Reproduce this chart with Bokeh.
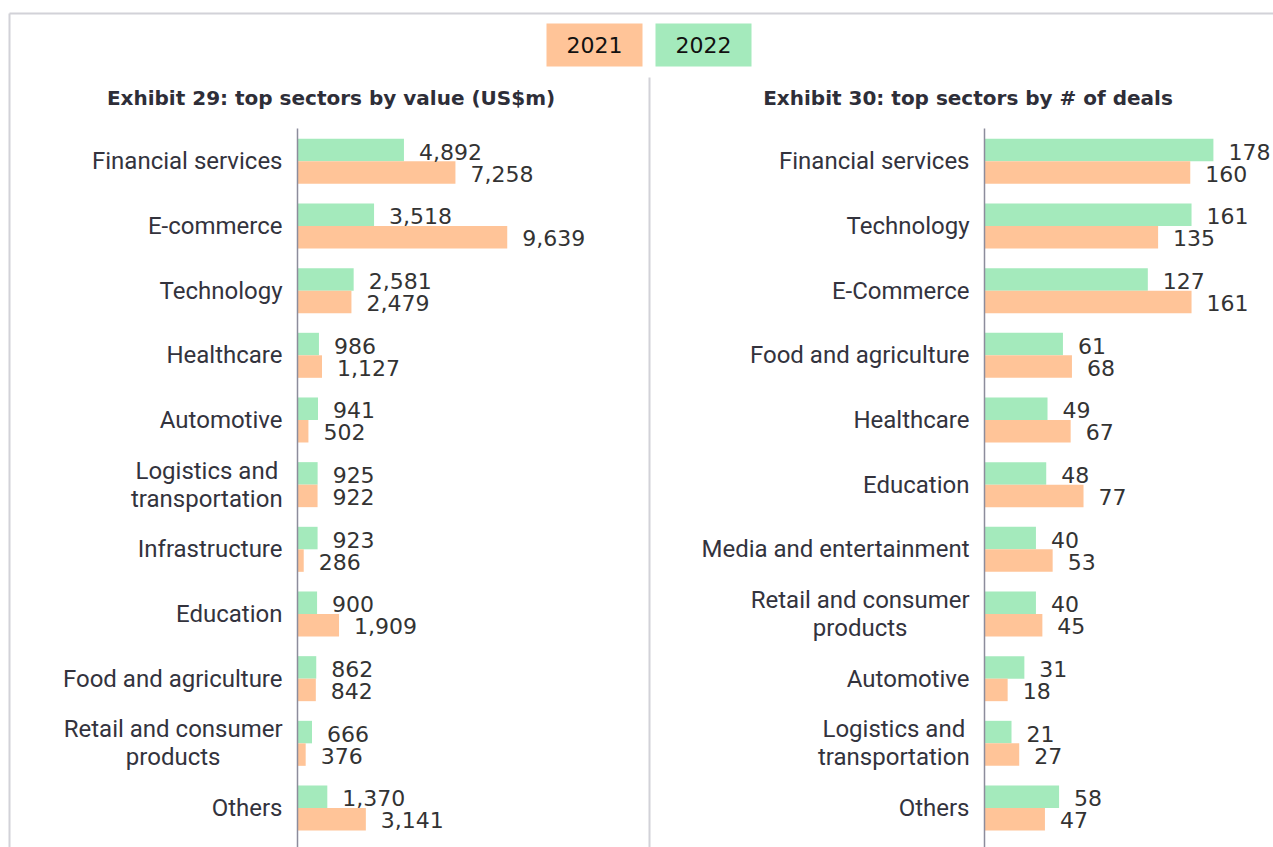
from bokeh.plotting import figure
from bokeh.models import Range1d, ColumnDataSource
from bokeh.embed import file_html
from bokeh.resources import INLINE
from bokeh.core.properties import value

# ---------------- data ----------------
series = ["2021", "2022"]

value_title = "Exhibit 29: top sectors by value (US$m)"
value_cats = ["Financial services", "E-commerce", "Technology", "Healthcare", "Automotive",
              "Logistics and transportation", "Infrastructure", "Education",
              "Food and agriculture", "Retail and consumer products", "Others"]
value_2022 = [4892, 3518, 2581, 986, 941, 925, 923, 900, 862, 666, 1370]
value_2021 = [7258, 9639, 2479, 1127, 502, 922, 286, 1909, 842, 376, 3141]

deals_title = "Exhibit 30: top sectors by # of deals"
deals_cats = ["Financial services", "Technology", "E-Commerce", "Food and agriculture",
              "Healthcare", "Education", "Media and entertainment",
              "Retail and consumer products", "Automotive",
              "Logistics and transportation", "Others"]
deals_2022 = [178, 161, 127, 61, 49, 48, 40, 40, 31, 21, 58]
deals_2021 = [160, 135, 161, 68, 67, 77, 53, 45, 18, 27, 47]

wrapped = {"Logistics and transportation": "Logistics and\ntransportation",
           "Retail and consumer products": "Retail and consumer\nproducts"}

# ---------------- style / layout ----------------
C2021 = "#FFC498"
C2022 = "#A4EABC"
TXT = "#33333d"
W, H = 1273, 847
AX1, K1 = 297, 0.02176      # left panel axis (px) and px per US$m
AX2, K2 = 984, 1.286        # right panel axis (px) and px per deal
TOP_C, PITCH = 160.8, 64.67  # first category centre (px) and spacing
BAR_H = 0.348
LABEL_FS = 24
GAP = 15

N = len(value_cats)
y_end = (N - 1) + TOP_C / PITCH
y_start = y_end - H / PITCH
x1_start = -AX1 / K1
x2_start = -AX2 / K2


def px_x(cx):
    return x1_start + cx / K1


def px_y(cy):
    return y_end - cy / PITCH


# approximate Roboto advance widths (em), used to centre wrapped labels
RW = {'a': .544, 'b': .561, 'c': .523, 'd': .564, 'e': .529, 'f': .347, 'g': .561, 'h': .551,
      'i': .243, 'l': .243, 'm': .876, 'n': .551, 'o': .570, 'p': .561, 'r': .338, 's': .515,
      't': .327, 'u': .551, 'v': .484, 'y': .473, ' ': .248, 'R': .616, 'L': .538}


def text_w(s):
    return sum(RW.get(ch, .55) for ch in s) * LABEL_FS


p = figure(width=W, height=H, x_range=Range1d(x1_start, (W - AX1) / K1),
           y_range=Range1d(y_start, y_end), x_axis_type=None, y_axis_type=None,
           output_backend="svg", toolbar_location=None, min_border=0,
           outline_line_color=None, background_fill_color="white",
           border_fill_color="white")
p.extra_x_ranges = {"deals": Range1d(x2_start, (W - AX2) / K2)}
p.xgrid.visible = False
p.ygrid.visible = False

# frame and separator
FRAME = "#d2d2d8"
p.segment(x0=[px_x(9)], y0=[px_y(13)], x1=[px_x(W)], y1=[px_y(13)], line_color=FRAME, line_width=2)
p.segment(x0=[px_x(9)], y0=[px_y(13)], x1=[px_x(9)], y1=[px_y(H)], line_color=FRAME, line_width=2)
p.segment(x0=[px_x(649)], y0=[px_y(77)], x1=[px_x(649)], y1=[px_y(H)], line_color=FRAME, line_width=2)

# legend
leg_x = [px_x(594), px_x(703)]
leg_y = [px_y(44.5)] * 2
p.rect(x=leg_x, y=leg_y, width=96, height=43, width_units="screen", height_units="screen",
       fill_color=[C2021, C2022], line_color=None)
p.text(x=leg_x, y=leg_y, text=series, text_align="center", text_baseline="middle",
       text_font=value("DejaVu Sans"), text_font_size="22px", text_color="#111111")

# titles
p.text(x=[px_x(330.5), px_x(967.5)], y=[px_y(97.5)] * 2, text=[value_title, deals_title],
       text_align="center", text_baseline="middle", text_font=value("DejaVu Sans"),
       text_font_size="20px", text_font_style="bold", text_color="#2e2e38")


def panel(cats, v22, v21, rname):
    ys = [N - 1 - i for i in range(len(cats))]
    src = ColumnDataSource(dict(
        y=ys, y22=[y + BAR_H / 2 for y in ys], y21=[y - BAR_H / 2 for y in ys],
        v22=v22, v21=v21,
        l22=[f"{v:,}" for v in v22], l21=[f"{v:,}" for v in v21]))
    kw = {} if rname is None else {"x_range_name": rname}
    p.hbar(y="y22", left=0, right="v22", height=BAR_H, fill_color=C2022, line_color=None, source=src, **kw)
    p.hbar(y="y21", left=0, right="v21", height=BAR_H, fill_color=C2021, line_color=None, source=src, **kw)
    p.text(x="v22", y="y22", text="l22", x_offset=15, y_offset=1.5, text_baseline="middle",
           text_font=value("DejaVu Sans"), text_font_size="22px", text_color="#333333", source=src, **kw)
    p.text(x="v21", y="y21", text="l21", x_offset=15, y_offset=1, text_baseline="middle",
           text_font=value("DejaVu Sans"), text_font_size="22px", text_color="#333333", source=src, **kw)
    # axis line
    p.segment(x0=[0], x1=[0], y0=[px_y(128)], y1=[px_y(H)], line_color="#8c8c9c", line_width=1.5, **kw)
    # category labels
    single = [(c, y) for c, y in zip(cats, ys) if c not in wrapped]
    multi = [(wrapped[c], y) for c, y in zip(cats, ys) if c in wrapped]
    p.text(x=[0] * len(single), y=[y for _, y in single], text=[c for c, _ in single],
           x_offset=-GAP, text_align="right", text_baseline="middle",
           text_font=value("Roboto"), text_font_size=f"{LABEL_FS}px", text_color=TXT, **kw)
    if multi:
        offs = [-(GAP + max(text_w(line) for line in c.split("\n")) / 2) for c, _ in multi]
        p.text(x=[0] * len(multi), y=[y for _, y in multi], text=[c for c, _ in multi],
               x_offset=offs, text_align="center", text_baseline="middle", text_line_height=1.0,
               text_font=value("Roboto"), text_font_size=f"{LABEL_FS}px", text_color=TXT, **kw)


panel(value_cats, value_2022, value_2021, None)
panel(deals_cats, deals_2022, deals_2021, "deals")

open("out.html", "w").write(file_html(p, INLINE))
